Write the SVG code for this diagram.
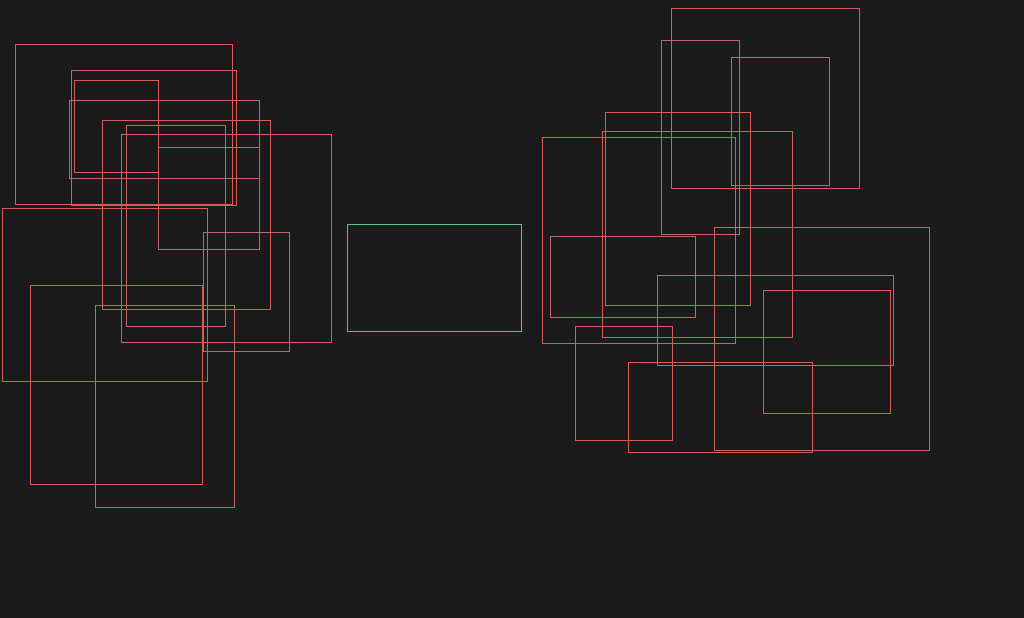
<svg xmlns="http://www.w3.org/2000/svg" width="1024" height="618" viewBox="0 0 1024 618">
<style>
rect.n{fill:none;stroke-width:1}
.r{stroke:#d95c5c}
.m{stroke:#c56565}
.g{stroke:#5ec28a}
</style>
<rect x="0" y="0" width="1024" height="618" fill="#1b1b1b"/>
<g id="left">
<g id="nA"><rect class="n r" x="15.5" y="44.5" width="217" height="160"/></g>
<g id="nB"><rect class="n r" x="71.5" y="70.5" width="165" height="135"/></g>
<g id="nC"><rect class="n r" x="74.5" y="80.5" width="84" height="92"/></g>
<g id="nD"><rect class="n m" x="69.5" y="100.5" width="190" height="78"/></g>
<g id="nE"><rect class="n r" x="102.5" y="120.5" width="168" height="189"/></g>
<g id="nF"><rect class="n m" x="126.5" y="125.5" width="99" height="201"/></g>
<g id="nG"><rect class="n r" x="121.5" y="134.5" width="210" height="208"/></g>
<g id="nH"><rect class="n m" x="158.5" y="147.5" width="101" height="102"/></g>
<g id="nI"><rect class="n r" x="2.5" y="208.5" width="205" height="173"/></g>
<g id="nJ"><rect class="n m" x="203.5" y="232.5" width="86" height="119"/></g>
<g id="nK"><rect class="n r" x="30.5" y="285.5" width="172" height="199"/></g>
<g id="nL"><rect class="n m" x="95.5" y="305.5" width="139" height="202"/></g>
</g>
<g id="center">
<g id="nZ"><rect class="n g" x="347.5" y="224.5" width="174" height="107"/></g>
</g>
<g id="right">
<g id="nM"><rect class="n r" x="671.5" y="8.5" width="188" height="180"/></g>
<g id="nN"><rect class="n m" x="661.5" y="40.5" width="78" height="194"/></g>
<g id="nO"><rect class="n m" x="731.5" y="57.5" width="98" height="128"/></g>
<g id="nP"><rect class="n r" x="605.5" y="112.5" width="145" height="193"/></g>
<g id="nQ"><rect class="n r" x="602.5" y="131.5" width="190" height="206"/></g>
<g id="nR"><rect class="n r" x="542.5" y="137.5" width="193" height="206"/></g>
<g id="nS"><rect class="n m" x="550.5" y="236.5" width="145" height="81"/></g>
<g id="nT"><rect class="n m" x="714.5" y="227.5" width="215" height="223"/></g>
<g id="nU"><rect class="n m" x="657.5" y="275.5" width="236" height="90"/></g>
<g id="nV"><rect class="n r" x="763.5" y="290.5" width="127" height="123"/></g>
<g id="nW"><rect class="n r" x="575.5" y="326.5" width="97" height="114"/></g>
<g id="nX"><rect class="n r" x="628.5" y="362.5" width="184" height="90"/></g>
</g>
<g id="connectors"></g>
</svg>
